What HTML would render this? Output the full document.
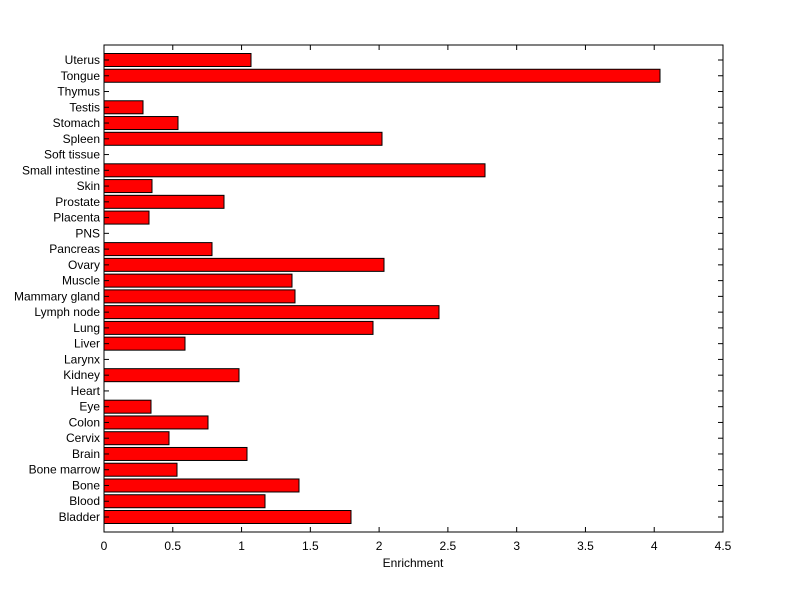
<!DOCTYPE html>
<html><head><style>body{margin:0;background:#fff}svg{display:block}text{font-family:"Liberation Sans",sans-serif;font-size:12px;fill:#000}</style></head>
<body>
<svg id="s" width="800" height="599" xmlns="http://www.w3.org/2000/svg"></svg>
<script>
var names=["Uterus","Tongue","Thymus","Testis","Stomach","Spleen","Soft tissue","Small intestine","Skin","Prostate","Placenta","PNS","Pancreas","Ovary","Muscle","Mammary gland","Lymph node","Lung","Liver","Larynx","Kidney","Heart","Eye","Colon","Cervix","Brain","Bone marrow","Bone","Blood","Bladder"];
var ends=[251,660,104,143,178,382,104,485,152,224,149,104,212,384,292,295,439,373,185,104,239,104,151,208,169,247,177,299,265,351];
var L=104,R=723,T=45,B=532,h='';
h+='<rect x="'+L+'" y="'+T+'" width="'+(R-L)+'" height="'+(B-T)+'" fill="#fff" stroke="#000"/>';
for(var i=0;i<30;i++){var y=60+i*(457/29);
if(ends[i]>L)h+='<rect x="'+L+'" y="'+(y-6.5)+'" width="'+(ends[i]-L)+'" height="13" fill="#f00" stroke="#000"/>';
h+='<line x1="'+L+'" x2="'+(L+5)+'" y1="'+y+'" y2="'+y+'" stroke="#000"/><line x1="'+(R-5)+'" x2="'+R+'" y1="'+y+'" y2="'+y+'" stroke="#000"/>';
h+='<text x="100" y="'+(y+4)+'" text-anchor="end">'+names[i]+'</text>';}
for(var k=0;k<=9;k++){var x=L+k*(R-L)/9;
h+='<line x1="'+x+'" x2="'+x+'" y1="'+B+'" y2="'+(B-5)+'" stroke="#000"/><line x1="'+x+'" x2="'+x+'" y1="'+T+'" y2="'+(T+5)+'" stroke="#000"/>';
h+='<text x="'+x+'" y="550" text-anchor="middle">'+(k*0.5)+'</text>';}
h+='<text x="413" y="567" text-anchor="middle">Enrichment</text>';
document.getElementById('s').innerHTML=h;
</script>
</body></html>
